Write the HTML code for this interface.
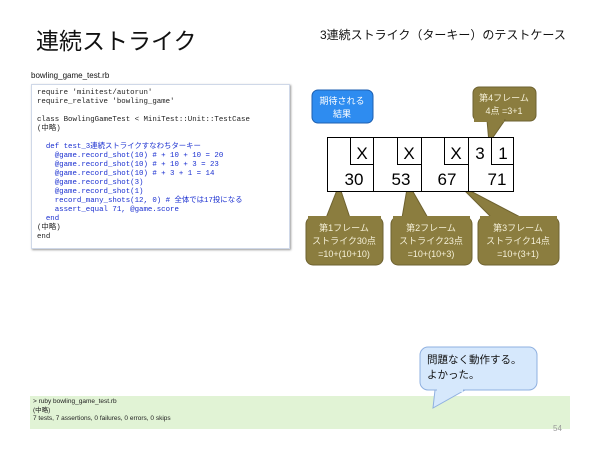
<!DOCTYPE html>
<html><head><meta charset="utf-8"><style>
body{margin:0;width:600px;height:450px;background:#fff;position:relative;overflow:hidden;font-family:"Liberation Sans","Noto Sans CJK JP",sans-serif;}
.a{position:absolute;white-space:nowrap}
pre.a{margin:0;font-family:"Liberation Mono","Noto Sans CJK JP",monospace;font-size:7.4px;line-height:9px;white-space:pre}
</style></head><body>
<div class="a" style="left:36px;top:22px;font-size:23px;color:#111">連続ストライク</div>
<div class="a" style="left:320px;top:26px;font-size:12px;color:#111">3連続ストライク（ターキー）のテストケース</div>
<div class="a" style="left:31px;top:71px;font-size:8px;color:#111">bowling_game_test.rb</div>
<div class="a" style="left:31px;top:84px;width:257px;height:163px;border:1px solid #cfd8e8;box-shadow:1px 1px 2px #999;background:#fff"></div>
<pre class="a" style="left:37px;top:89px;color:#222">require 'minitest/autorun'
require_relative 'bowling_game'

class BowlingGameTest &lt; MiniTest::Unit::TestCase
(中略)

<span style="color:#1a2fd0">  def test_3連続ストライクすなわちターキー
    @game.record_shot(10) # + 10 + 10 = 20
    @game.record_shot(10) # + 10 + 3 = 23
    @game.record_shot(10) # + 3 + 1 = 14
    @game.record_shot(3)
    @game.record_shot(1)
    record_many_shots(12, 0) # 全体では17投になる
    assert_equal 71, @game.score
  end</span>
(中略)
end</pre>
<div class="a" style="left:30px;top:396px;width:540px;height:33px;background:#e1f3d5"></div>
<div class="a" style="left:33px;top:398px;font-size:6.5px;line-height:8.5px;color:#222">&gt; ruby bowling_game_test.rb<br>(中略)<br>7 tests, 7 assertions, 0 failures, 0 errors, 0 skips</div>
<div class="a" style="left:553px;top:424px;font-size:8px;color:#999">54</div>
<svg class="a" style="left:0;top:0" width="600" height="450">
<g fill="#8b7d3f" stroke="#6e6230" stroke-width="1">
<rect x="473" y="87" width="63" height="34" rx="6"/>
<path d="M487 120 L489 143 L505 120Z"/>
<rect x="306" y="217" width="77" height="48" rx="7"/>
<path d="M326 218 L339 185 L350 218Z"/>
<rect x="391" y="217" width="81" height="48" rx="7"/>
<path d="M402 218 L408 183 L428 218Z"/>
<rect x="478" y="217" width="81" height="48" rx="7"/>
<path d="M492 218 L459 185 L522 218Z"/>
</g>
<g fill="#8b7d3f"><rect x="474" y="110" width="30" height="12"/><rect x="308" y="216" width="73" height="4"/><rect x="393" y="216" width="77" height="4"/><rect x="480" y="216" width="77" height="4"/></g>
<rect x="312" y="90" width="61" height="33" rx="6" fill="#2e8cf0" stroke="#1d5fb0"/>
<rect x="327.5" y="137.5" width="186" height="54" fill="#fff" stroke="#000"/>
<g stroke="#000" fill="none">
<path d="M373.5 137 V191 M421.5 137 V191 M468.5 137 V191"/>
<path d="M350.5 137 V164.5 H373 M397.5 137 V164.5 H421 M444.5 137 V164.5 H468 M491.5 137 V164.5 H513"/>
</g>
<path d="M435 390 L433 408 L465 390Z" fill="#d6e8fc" stroke="#8fb0e0"/>
<rect x="420" y="347" width="117" height="43" rx="8" fill="#d6e8fc" stroke="#8fb0e0"/>
<rect x="437" y="386" width="26" height="6" fill="#d6e8fc"/>
<g font-family="Liberation Sans,Noto Sans CJK JP,sans-serif" font-size="17" fill="#000" text-anchor="middle">
<text x="362" y="159">X</text><text x="409" y="159">X</text><text x="456" y="159">X</text>
<text x="480" y="159">3</text><text x="503" y="159">1</text>
<text x="354" y="185">30</text><text x="401" y="185">53</text><text x="447" y="185">67</text><text x="497" y="185">71</text>
</g>
<g font-family="Liberation Sans,Noto Sans CJK JP,sans-serif" font-size="9" fill="#fff" text-anchor="middle">
<text x="342" y="104">期待される</text><text x="342" y="117">結果</text>
<g fill="#f5f0d8">
<text x="504" y="101">第4フレーム</text><text x="504" y="114">4点 =3+1</text>
<text x="344" y="231">第1フレーム</text><text x="344" y="244">ストライク30点</text><text x="344" y="257">=10+(10+10)</text>
<text x="431" y="231">第2フレーム</text><text x="431" y="244">ストライク23点</text><text x="431" y="257">=10+(10+3)</text>
<text x="518" y="231">第3フレーム</text><text x="518" y="244">ストライク14点</text><text x="518" y="257">=10+(3+1)</text>
</g></g>
<g font-family="Liberation Sans,Noto Sans CJK JP,sans-serif" font-size="10.5" fill="#111">
<text x="427" y="363">問題なく動作する。</text><text x="427" y="378">よかった。</text>
</g>
</svg>
</body></html>
